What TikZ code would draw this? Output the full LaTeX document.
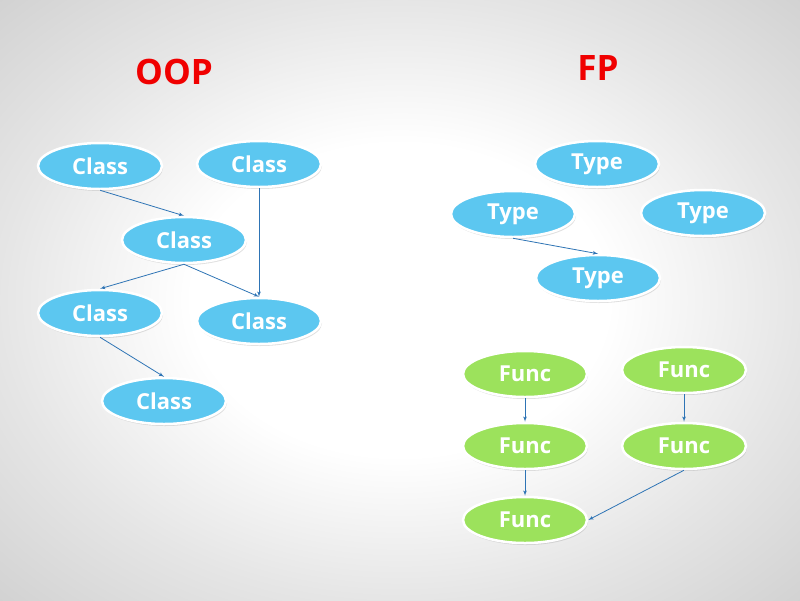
\documentclass[tikz,border=0pt]{standalone}
\usepackage{fontspec}
\setmainfont{Open Sans}
\usepackage{xcolor}
\usepackage{tikz}
\usetikzlibrary{shapes,arrows,shadows}
\definecolor{skyblue}{RGB}{92,199,240}
\definecolor{leafgreen}{RGB}{156,226,92}
\definecolor{arrowblue}{RGB}{46,116,181}
\definecolor{titlered}{RGB}{240,0,0}
\pgfdeclareradialshading{slidebg}{\pgfpoint{0bp}{0bp}}{color(0bp)=(white); color(13bp)=(white);
    color(25bp)=(black!10); color(36bp)=(black!18); color(50bp)=(black!20)}
\tikzstyle{bubble} = [ellipse, draw=white, line width=2.5pt, text=white, font=\bfseries\fontsize{22}{26}\selectfont,
    minimum width=124pt, minimum height=46pt, inner sep=0pt,
    drop shadow={shadow xshift=1pt, shadow yshift=-2pt, opacity=0.25}]
\tikzstyle{classnode} = [bubble, fill=skyblue]
\tikzstyle{funcnode} = [bubble, fill=leafgreen]
\tikzstyle{title} = [text=titlered, font=\bfseries\fontsize{35}{40}\selectfont]
\tikzstyle{line} = [draw=arrowblue, line width=0.8pt, -latex']

\begin{document}
\begin{tikzpicture}[x=1pt,y=-1pt,node distance=72pt]
      \shade[shading=slidebg] (0,0) rectangle (800,600);
      \useasboundingbox (0,0) rectangle (800,600);

      \node [title] (oop) at (174,72) {OOP};
      \node [title] (fp) at (598,68) {FP};

      % OOP side
      \node [classnode] (class1) at (100,166) {Class};
      \node [classnode] (class2) at (259,164) {Class};
      \node [classnode] (class3) at (184,240) {Class};
      \node [classnode] (class4) at (100,313) {Class};
      \node [classnode] (class5) at (259,321) {Class};
      \node [classnode] (class6) at (164,401) {Class};

      % FP side
      \node [classnode] (type1) at (597,164) {Type};
      \node [classnode] (type2) at (513,214) {Type};
      \node [classnode] (type3) at (703,213) {Type};
      \node [classnode] (type4) at (598,278) {Type};

      \node [funcnode] (func1) at (525,374) {Func};
      \node [funcnode, below of=func1] (func3) {Func};
      \node [funcnode, below of=func3, yshift=-2pt] (func5) {Func};
      \node [funcnode] (func2) at (684,370) {Func};
      \node [funcnode, below of=func2, yshift=-4pt] (func4) {Func};

      \path [line] (class1.south) -- (class3.north);
      \path [line] (class2.south) -- (class5.north);
      \path [line] (class3.south) -- (class4.north);
      \path [line] (class3.south) -- (class5.north);
      \path [line] (class4.south) -- (class6.north);
      \path [line] (type2.south) -- (type4.north);
      \path [line] (func1) -- (func3);
      \path [line] (func3) -- (func5);
      \path [line] (func2) -- (func4);
      \path [line] (func4.south) -- (func5.east);

    \end{tikzpicture}
\end{document}
